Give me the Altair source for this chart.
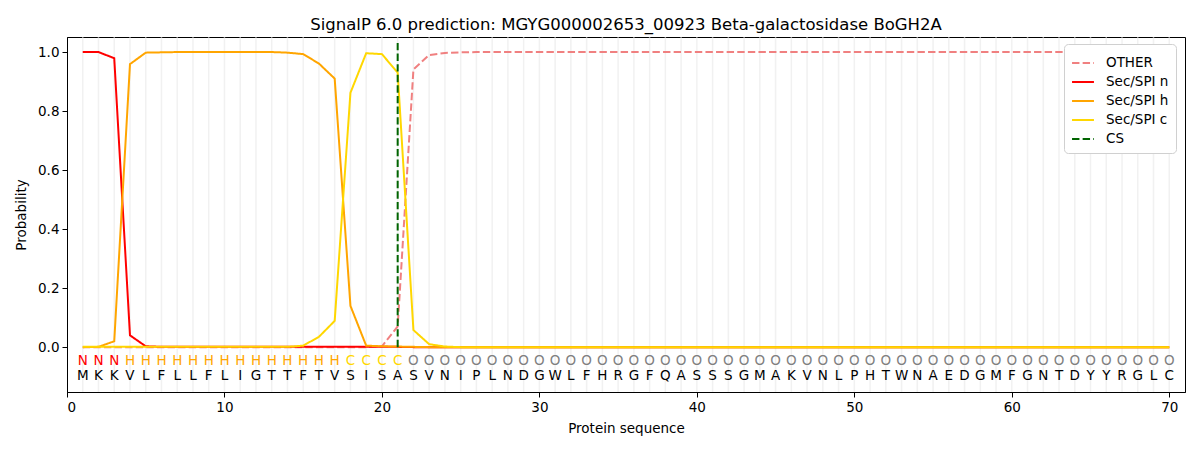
import altair as alt
import pandas as pd

title = "SignalP 6.0 prediction: MGYG000002653_00923 Beta-galactosidase BoGH2A"
sequence = list("MKKVLFLLFLIGTTFTVSISASVNIPLNDGWLFHRGFQASSSGMAKVNLPHTWNAEDGMFGNTDYYRGLC")
labels = list("NNN" + "H" * 14 + "CCCC" + "O" * 49)

other = [0.0] * 19 + [0.003, 0.07, 0.941, 0.99, 0.997, 0.999] + [1.0] * 45
sec_n = [1.0, 1.0, 0.979, 0.04, 0.003] + [0.001] * 16 + [0.0] * 49
sec_h = [0.0, 0.001, 0.02, 0.959, 0.998, 0.999, 1.0, 1.0, 1.0, 1.0, 1.0, 1.0, 1.0,
         0.998, 0.993, 0.961, 0.91, 0.14, 0.005, 0.003, 0.002, 0.001] + [0.0] * 48
sec_c = [0.001] * 14 + [0.005, 0.035, 0.089, 0.862, 0.996, 0.993, 0.93, 0.058, 0.01, 0.002] + [0.0] * 46
cs_pos = 21
cs_top = 1.034

series_names = ["OTHER", "Sec/SPI n", "Sec/SPI h", "Sec/SPI c", "CS"]
series_colors = ["#f08080", "#ff0000", "#ffa500", "#ffd700", "#006400"]
series_dash = [[7.4, 3.2], [1, 0], [1, 0], [1, 0], [7.4, 3.2]]
label_colors = {"N": "#ff0000", "H": "#ffa500", "C": "#ffd700", "O": "#808080"}

pos = list(range(1, len(sequence) + 1))
rows = []
for name, vals in zip(series_names[:4], [other, sec_n, sec_h, sec_c]):
    for p, v in zip(pos, vals):
        rows.append({"pos": p, "prob": v, "series": name})
lines_df = pd.DataFrame(rows)

letters_df = pd.DataFrame({
    "pos": pos,
    "aa": sequence,
    "lab": labels,
    "labcolor": [label_colors[l] for l in labels],
})
cs_df = pd.DataFrame({"pos": [cs_pos], "y0": [0.0], "y1": [cs_top], "series": ["CS"]})

xscale = alt.Scale(domain=[0, 71], nice=False, zero=False)
yscale = alt.Scale(domain=[-0.152, 1.051], nice=False, zero=False)
color_scale = alt.Scale(domain=series_names, range=series_colors)
dash_scale = alt.Scale(domain=series_names, range=series_dash)

xaxis = alt.Axis(values=[0, 10, 20, 30, 40, 50, 60, 70], title="Protein sequence", grid=False,
                 tickSize=5, labelPadding=3, titlePadding=8, format="d")
yaxis = alt.Axis(values=[0.0, 0.2, 0.4, 0.6, 0.8, 1.0], title="Probability", grid=False,
                 tickSize=5, labelPadding=3, titlePadding=9, format=".1f")

grid = alt.Chart(letters_df).mark_rule(color="#e8e8e8", strokeWidth=1.5, opacity=0.6).encode(
    x=alt.X("pos:Q", scale=xscale, axis=xaxis)
)

legend = alt.Legend(title=None, orient="none", legendX=997, legendY=7, fillColor="white",
                    strokeColor="#d0d0d0", padding=7, cornerRadius=4,
                    labelFontSize=13.5, labelFont="DejaVu Sans", symbolType="stroke",
                    symbolSize=480, symbolStrokeWidth=2, rowPadding=0, labelOffset=11)

layers = [grid]
for name in series_names[:4]:
    layers.append(
        alt.Chart(lines_df).transform_filter(alt.datum.series == name).mark_line(strokeWidth=2).encode(
            x=alt.X("pos:Q", scale=xscale, axis=xaxis),
            y=alt.Y("prob:Q", scale=yscale, axis=yaxis),
            color=alt.Color("series:N", scale=color_scale, legend=legend),
            strokeDash=alt.StrokeDash("series:N", scale=dash_scale, legend=legend),
        )
    )

cs_rule = alt.Chart(cs_df).mark_rule(strokeWidth=2).encode(
    x=alt.X("pos:Q", scale=xscale),
    y=alt.Y("y0:Q", scale=yscale),
    y2="y1:Q",
    color=alt.Color("series:N", scale=color_scale, legend=legend),
    strokeDash=alt.StrokeDash("series:N", scale=dash_scale, legend=legend),
)
layers.append(cs_rule)

lab_text = alt.Chart(letters_df).transform_calculate(yy="-0.047").mark_text(
    fontSize=13.5, font="DejaVu Sans", baseline="middle"
).encode(
    x=alt.X("pos:Q", scale=xscale),
    y=alt.Y("yy:Q", scale=yscale),
    text="lab:N",
    color=alt.Color("labcolor:N", scale=None, legend=None),
)
aa_text = alt.Chart(letters_df).transform_calculate(yy="-0.098").mark_text(
    fontSize=13.5, font="DejaVu Sans", baseline="middle", color="black"
).encode(
    x=alt.X("pos:Q", scale=xscale),
    y=alt.Y("yy:Q", scale=yscale),
    text="aa:N",
)
layers += [lab_text, aa_text]

chart = alt.layer(*layers).properties(
    width=1118, height=355,
    title=alt.TitleParams(title, fontSize=16.5, font="DejaVu Sans", fontWeight="normal",
                          anchor="middle", offset=3, color="black"),
    padding={"left": 59, "top": 29, "right": 7, "bottom": 50},
    autosize=alt.AutoSizeParams(type="none"),
).configure_view(stroke="black", strokeWidth=1).configure_axis(
    domainColor="black", tickColor="black", labelColor="black", titleColor="black",
    labelFont="DejaVu Sans", titleFont="DejaVu Sans", labelFontSize=13.5, titleFontSize=13.5,
    titleFontWeight="normal", domainWidth=1, tickWidth=1
)

chart.save("out.html", embed_options={"renderer": "svg", "actions": False})
